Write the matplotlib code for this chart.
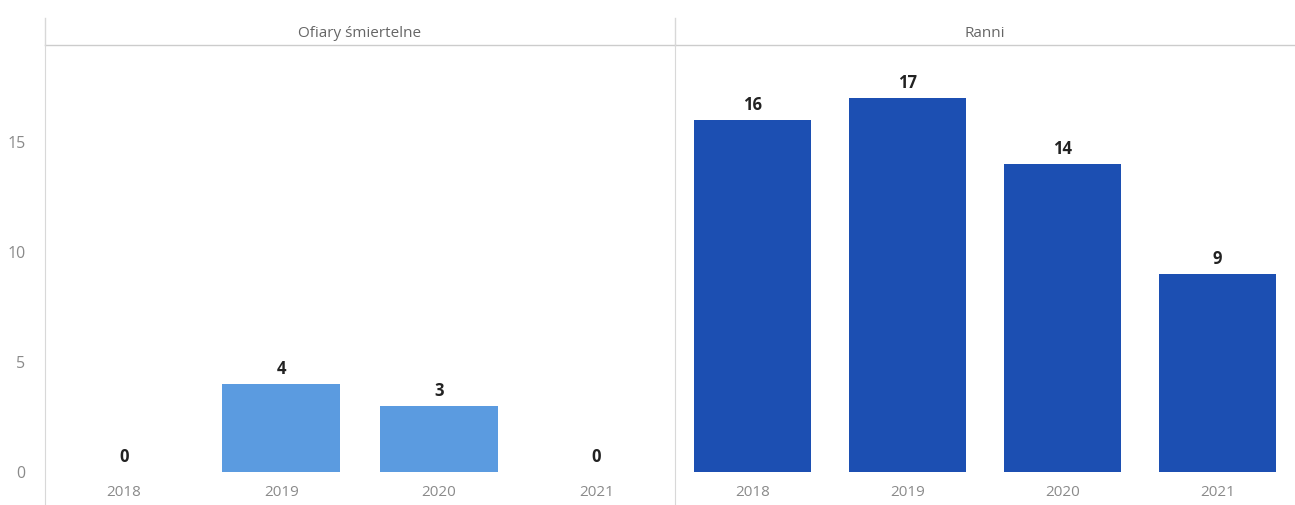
import matplotlib.pyplot as plt
from matplotlib.transforms import blended_transform_factory

plt.rcParams['font.family'] = ['Open Sans', 'DejaVu Sans']

years = ['2018', '2019', '2020', '2021']
panels = ['Ofiary śmiertelne', 'Ranni']
fatalities = [0, 4, 3, 0]
injured = [16, 17, 14, 9]
colors = ['#5b9be0', '#1c4fb2']

fig = plt.figure(figsize=(12.95, 5.05), dpi=100)
ax_l = fig.add_axes([45 / 1295, 0, 630 / 1295, 1 - 45 / 505])
ax_r = fig.add_axes([675 / 1295, 0, 620 / 1295, 1 - 45 / 505], sharey=ax_l)

for ax, title, vals, col in zip([ax_l, ax_r], panels, [fatalities, injured], colors):
    x = range(len(years))
    ax.bar(x, vals, width=0.75, color=col)
    for i, v in zip(x, vals):
        ax.text(i, v + 0.25, str(v), ha='center', va='bottom',
                fontsize=12, fontweight='bold', color='#222222')
    for i, y in zip(x, years):
        ax.text(i, -0.95, y, ha='center', va='center', fontsize=11, color='#8a8a8a')
    ax.set_xlim(-0.5, len(years) - 0.5)
    ax.set_ylim(-1.5, 19.4)
    ax.set_xticks([])
    for s in ['top', 'right', 'bottom']:
        ax.spines[s].set_visible(False)
    ax.spines['left'].set_color('#d8d8d8')
    # panel header
    tr = blended_transform_factory(ax.transAxes, fig.transFigure)
    ax.text(0.5, 1 - 33 / 505, title, transform=tr, ha='center', va='center',
            fontsize=11, color='#666666')
    ax.plot([0, 1], [1 - 45 / 505, 1 - 45 / 505], transform=tr, color='#cccccc',
            lw=1, clip_on=False)
    ax.plot([0, 0], [1 - 18 / 505, 1 - 45 / 505], transform=tr, color='#d8d8d8',
            lw=1, clip_on=False)

ax_l.set_yticks([0, 5, 10, 15])
ax_l.tick_params(axis='y', length=0, pad=14, labelsize=11.5, labelcolor='#8a8a8a')
ax_r.tick_params(axis='y', left=False, labelleft=False)

fig.savefig('out.png', dpi=100)
